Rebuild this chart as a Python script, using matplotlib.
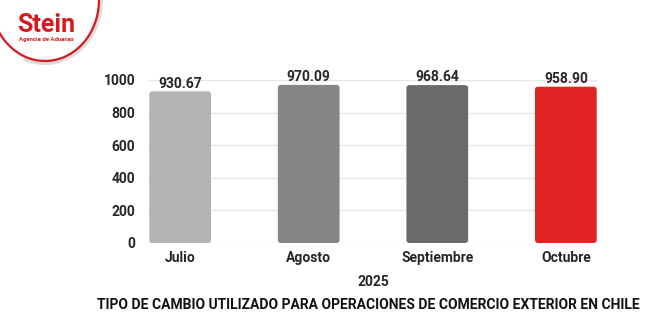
import matplotlib
matplotlib.use("Agg")
import matplotlib.pyplot as plt
from matplotlib.patches import FancyBboxPatch, Arc

months = ["Julio", "Agosto", "Septiembre", "Octubre"]
values = [930.67, 970.09, 968.64, 958.90]
bar_colors = ["#b3b3b3", "#858585", "#6a6a6a", "#e02424"]
yticks = [0, 200, 400, 600, 800, 1000]
year_label = "2025"
title = "TIPO DE CAMBIO UTILIZADO PARA OPERACIONES DE COMERCIO EXTERIOR EN CHILE"

DARK = "#262626"
RED = "#d71920"
plt.rcParams["font.family"] = ["Roboto", "DejaVu Sans"]

fig = plt.figure(figsize=(6.54, 3.14), dpi=100)
fig.patch.set_facecolor("white")

ax = fig.add_axes([148 / 654, 71 / 314, 450 / 654, 163 / 314])
bars = ax.bar(range(len(months)), values, width=0.48, color=bar_colors, zorder=2)
ax.set_xlim(-0.25, len(months) - 0.75)
ax.set_ylim(0, 1000)

# swap plain bars for slightly rounded ones
aspect = (1000 / 163) / (3.5 / 450)
for b in bars:
    x, y, w, h = b.get_x(), b.get_y(), b.get_width(), b.get_height()
    rp = FancyBboxPatch((x, y), w, h, boxstyle="round,pad=0,rounding_size=0.025",
                        mutation_aspect=aspect, facecolor=b.get_facecolor(),
                        edgecolor="none", zorder=2)
    b.set_visible(False)
    ax.add_patch(rp)

for i, v in enumerate(values):
    ax.text(i, v + 4, f"{v:.2f}", ha="center", va="bottom", fontsize=10,
            fontweight="bold", color=DARK, clip_on=False)

ax.set_yticks(yticks)
ax.set_yticklabels([str(t) for t in yticks], fontsize=10, fontweight="bold", color=DARK)
ax.set_xticks(range(len(months)))
ax.set_xticklabels(months, fontsize=10, fontweight="bold", color=DARK)
ax.tick_params(length=0, pad=6)
ax.tick_params(axis="y", pad=9)
ax.grid(axis="y", color="#e6e6e6", lw=1, zorder=0)
for s in ax.spines.values():
    s.set_visible(False)

fig.text(373 / 654, 1 - 282 / 314, year_label, ha="center", va="center",
         fontsize=10, fontweight="bold", color=DARK)
fig.text(368 / 654, 1 - 305 / 314, title, ha="center", va="center",
         fontsize=10, fontweight="bold", color="#111111")

# logo in the top-left corner (pixel coords, y pointing down)
lo = fig.add_axes([0, 0, 1, 1], zorder=5)
lo.set_xlim(0, 654)
lo.set_ylim(314, 0)
lo.axis("off")
lo.add_patch(Arc((45, 0), 112, 126, theta1=-15, theta2=110, color="#dcdcdc", lw=3))
lo.add_patch(Arc((45, 0), 108, 122, theta1=-15, theta2=150, color=RED, lw=1.6))
lo.text(46, 32, "Stein", ha="center", va="baseline", fontsize=18, fontweight="bold", color=RED)
lo.text(46, 40.5, "Agencia de Aduanas", ha="center", va="baseline", fontsize=4.2,
        fontweight="bold", color=RED)

fig.savefig("out.png", dpi=100, facecolor="white")
